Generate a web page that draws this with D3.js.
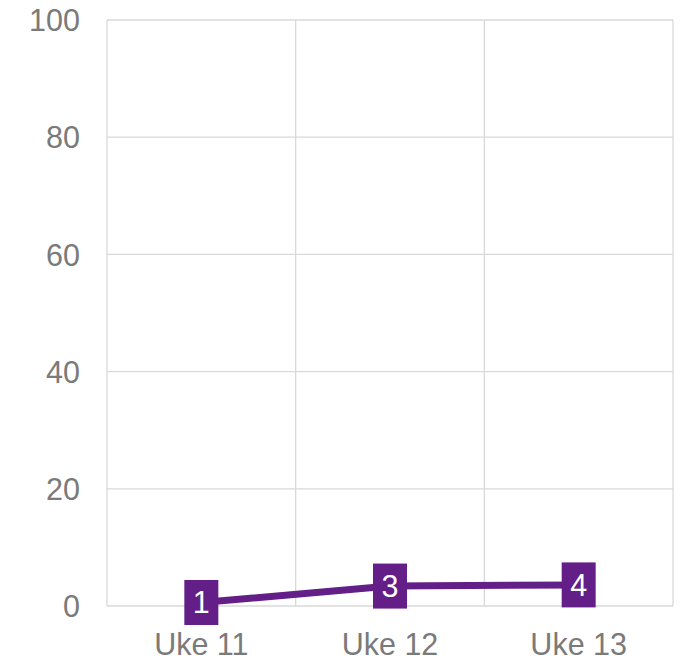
<!DOCTYPE html>
<html>
<head>
<meta charset="utf-8">
<script src="https://cdn.jsdelivr.net/npm/d3@7"></script>
<style>
  html, body { margin: 0; padding: 0; background: #ffffff; }
  svg { display: block; }
</style>
</head>
<body>
<svg id="chart" width="687" height="660"></svg>
<script>
const categories = ["Uke 11", "Uke 12", "Uke 13"];
const values = [0.6, 3.4, 3.6];
const yTicks = [0, 20, 40, 60, 80, 100];

const W = 687, H = 660;
const margin = { left: 107, right: 14, top: 20, bottom: 54 };
const svg = d3.select("#chart");
const font = "'Liberation Sans', Arial, sans-serif";
const purple = "#641E87";
const gridColor = "#D9D9D9";
const textColor = "#7A7A7A";

const x = d3.scaleBand().domain(categories).range([margin.left, W - margin.right]).paddingInner(0).paddingOuter(0);
const y = d3.scaleLinear().domain([0, 100]).range([H - margin.bottom, margin.top]);

// horizontal gridlines
svg.append("g").selectAll("line").data(yTicks).join("line")
  .attr("x1", margin.left).attr("x2", W - margin.right)
  .attr("y1", d => y(d)).attr("y2", d => y(d))
  .attr("stroke", gridColor).attr("stroke-width", 1.3);

// vertical gridlines at category boundaries
const bounds = categories.map(c => x(c)).concat([x(categories[categories.length - 1]) + x.bandwidth()]);
svg.append("g").selectAll("line").data(bounds).join("line")
  .attr("x1", d => d).attr("x2", d => d)
  .attr("y1", y(0)).attr("y2", y(100))
  .attr("stroke", gridColor).attr("stroke-width", 1.3);

// y axis labels
const yAxis = d3.axisLeft(y).tickValues(yTicks).tickSize(0).tickPadding(0);
const gy = svg.append("g").attr("transform", `translate(80,0)`).call(yAxis);
gy.select(".domain").remove();
gy.selectAll("text").attr("fill", textColor).attr("font-size", 30.5).attr("font-family", font).attr("dy", "0.35em");

// x axis labels
const xAxis = d3.axisBottom(x).tickSize(0).tickPadding(0);
const gx = svg.append("g").attr("transform", `translate(0,${y(0)})`).call(xAxis);
gx.select(".domain").remove();
gx.selectAll("text").attr("fill", textColor).attr("font-size", 30.5).attr("font-family", font).attr("dy", null).attr("y", 49);

// line
const cx = c => x(c) + x.bandwidth() / 2;
const line = d3.line().x((d, i) => cx(categories[i])).y(d => y(d));
svg.append("path").datum(values)
  .attr("d", line).attr("fill", "none")
  .attr("stroke", purple).attr("stroke-width", 7).attr("stroke-linejoin", "round");

// data labels
const lbl = svg.append("g").selectAll("g").data(values).join("g")
  .attr("transform", (d, i) => `translate(${cx(categories[i])},${y(d)})`);
lbl.append("rect")
  .attr("x", -17).attr("y", -22.5).attr("width", 34).attr("height", 45)
  .attr("fill", purple);
lbl.append("text")
  .text(d => String(Math.round(d)))
  .attr("text-anchor", "middle").attr("dy", "0.36em")
  .attr("fill", "#ffffff").attr("font-size", 30.5).attr("font-family", font);
</script>
</body>
</html>
